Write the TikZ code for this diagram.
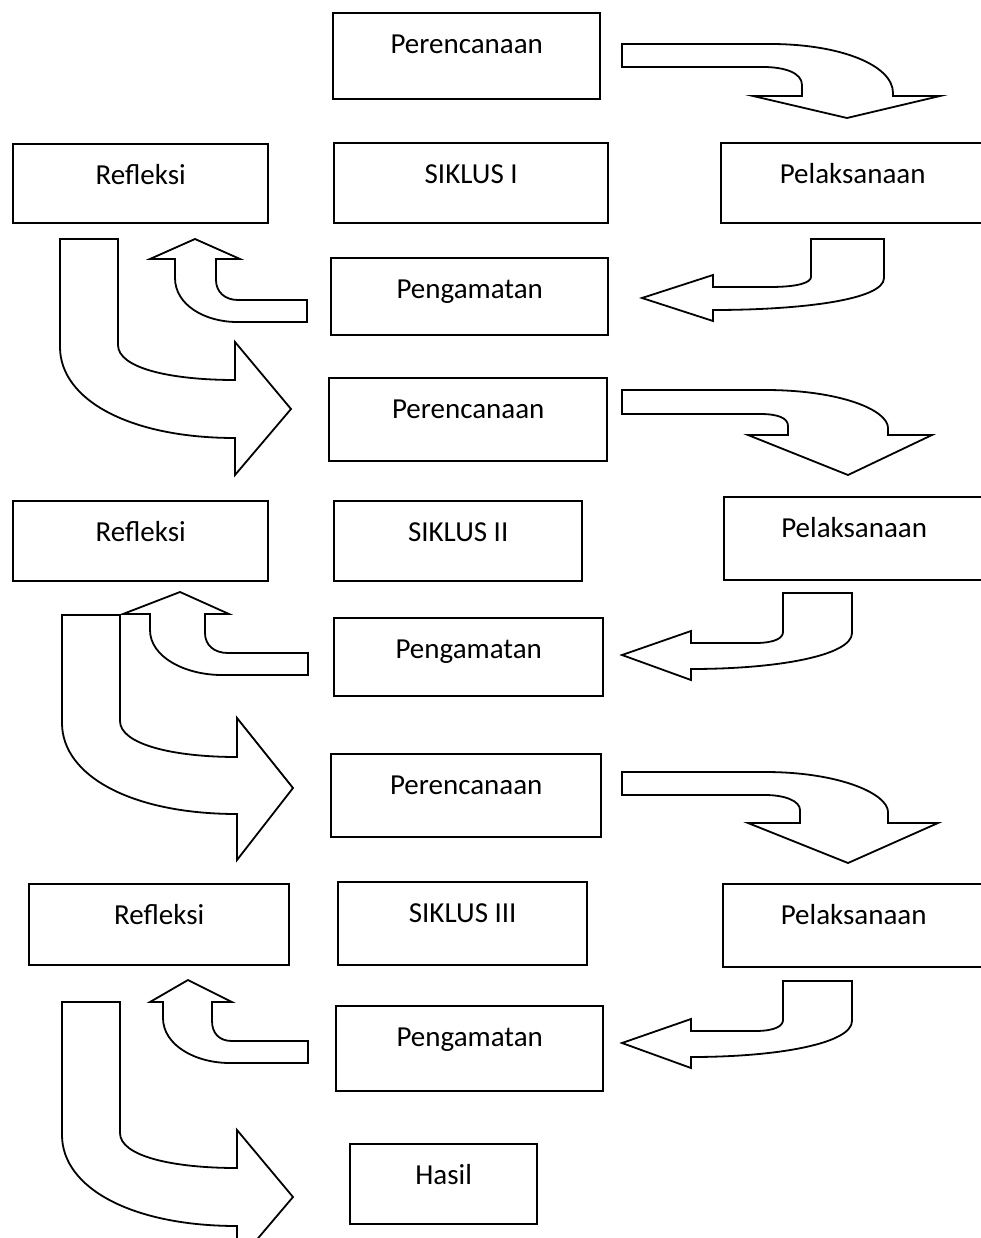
\documentclass[tikz,border=0pt]{standalone}
\usepackage{fontspec}
\setmainfont{Carlito}
\begin{document}
\begin{tikzpicture}[x=1pt,y=-1pt,
  box/.style={draw, line width=2.4pt, inner sep=0pt, anchor=north west, align=center,
    font=\fontsize{29}{34}\selectfont, text height=40pt},
  blockarrow/.style={draw, line width=1.8pt, line join=miter, fill=white}]
\useasboundingbox (0,0) rectangle (981,1238);
\clip (0,0) rectangle (981,1238);
% ---------- Cycle I ----------
\node[box, minimum width=267pt, text depth=46pt] (p1) at (332,12) {Perencanaan};
\node[box, minimum width=255pt, text depth=39pt] (r1) at (12,143) {Refleksi};
\node[box, minimum width=274pt, text depth=40pt] (s1) at (333,142) {SIKLUS I};
\node[box, minimum width=263pt, text depth=40pt] (l1) at (720,142) {Pelaksanaan};
\node[box, minimum width=277pt, text depth=37pt] (g1) at (330,257) {Pengamatan};
% arrows cycle I
\path[blockarrow] (622,44) -- (770,44) .. controls (840,44) and (893,65) .. (893,93) -- (893,96) -- (940,96) -- (847,118) -- (753,96) -- (802,96) -- (802,85) .. controls (802,73) and (785,67) .. (763,67) -- (622,67) -- cycle;
\path[blockarrow] (811,239) -- (884,239) -- (884,278) .. controls (884,300) and (800,310) .. (713,310) -- (713,321) -- (642,298) -- (713,275) -- (713,287) -- (770,287) .. controls (800,287) and (811,282) .. (811,277) -- cycle;
\path[blockarrow] (307,300) -- (238,300) .. controls (225,300) and (216,292) .. (216,280) -- (216,259) -- (240,259) -- (195,239) -- (150,259) -- (175,259) -- (175,278) .. controls (175,305) and (205,322) .. (237,322) -- (307,322) -- cycle;
\path[blockarrow] (60,239) -- (118,239) -- (118,345) .. controls (118,368) and (170,380) .. (235,380) -- (235,342) -- (291,409) -- (235,475) -- (235,438) .. controls (130,438) and (60,400) .. (60,347) -- cycle;
% ---------- Cycle II ----------
\node[box, minimum width=278pt, text depth=43pt] (p2) at (328,377) {Perencanaan};
\node[box, minimum width=255pt, text depth=40pt] (r2) at (12,500) {Refleksi};
\node[box, minimum width=248pt, text depth=40pt] (s2) at (333,500) {SIKLUS II};
\node[box, minimum width=260pt, text depth=43pt] (l2) at (723,496) {Pelaksanaan};
\node[box, minimum width=269pt, text depth=38pt] (g2) at (333,617) {Pengamatan};
\path[blockarrow] (622,390) -- (765,390) .. controls (840,390) and (888,410) .. (888,428) -- (888,435) -- (932,435) -- (848,475) -- (748,435) -- (788,435) -- (788,426) .. controls (788,418) and (778,414) .. (760,414) -- (622,414) -- cycle;
\path[blockarrow] (783,593) -- (852,593) -- (852,633) .. controls (852,655) and (780,669) .. (691,669) -- (691,680) -- (622,655) -- (691,631) -- (691,643) -- (755,643) .. controls (775,643) and (783,638) .. (783,632) -- cycle;
\path[blockarrow] (308,653) -- (228,653) .. controls (214,653) and (205,645) .. (205,633) -- (205,614) -- (229,614) -- (180,592) -- (123,614) -- (150,614) -- (150,630) .. controls (150,657) and (185,675) .. (222,675) -- (308,675) -- cycle;
\path[blockarrow] (62,615) -- (120,615) -- (120,721) .. controls (120,744) and (172,757) .. (237,757) -- (237,718) -- (293,788) -- (237,860) -- (237,814) .. controls (132,814) and (62,776) .. (62,723) -- cycle;
% ---------- Cycle III ----------
\node[box, minimum width=270pt, text depth=43pt] (p3) at (330,753) {Perencanaan};
\node[box, minimum width=260pt, text depth=41pt] (r3) at (28,883) {Refleksi};
\node[box, minimum width=249pt, text depth=43pt] (s3) at (337,881) {SIKLUS III};
\node[box, minimum width=261pt, text depth=43pt] (l3) at (722,883) {Pelaksanaan};
\node[box, minimum width=267pt, text depth=45pt] (g3) at (335,1005) {Pengamatan};
\node[box, minimum width=187pt, text depth=40pt] (h) at (349,1143) {Hasil};
\path[blockarrow] (622,772) -- (765,772) .. controls (840,772) and (888,794) .. (888,812) -- (888,823) -- (938,823) -- (848,863) -- (748,823) -- (800,823) -- (800,810) .. controls (800,801) and (785,795) .. (765,795) -- (622,795) -- cycle;
\begin{scope}[shift={(0,388)}]
\path[blockarrow] (783,593) -- (852,593) -- (852,633) .. controls (852,655) and (780,669) .. (691,669) -- (691,680) -- (622,655) -- (691,631) -- (691,643) -- (755,643) .. controls (775,643) and (783,638) .. (783,632) -- cycle;
\end{scope}
\path[blockarrow] (308,1041) -- (232,1041) .. controls (219,1041) and (212,1033) .. (212,1021) -- (212,1002) -- (232,1002) -- (188,980) -- (150,1002) -- (163,1002) -- (163,1018) .. controls (163,1045) and (195,1063) .. (230,1063) -- (308,1063) -- cycle;
\path[blockarrow] (62,1002) -- (120,1002) -- (120,1133) .. controls (120,1156) and (172,1168) .. (237,1168) -- (237,1130) -- (293,1197) -- (237,1263) -- (237,1226) .. controls (132,1226) and (62,1188) .. (62,1135) -- cycle;
\end{tikzpicture}
\end{document}
